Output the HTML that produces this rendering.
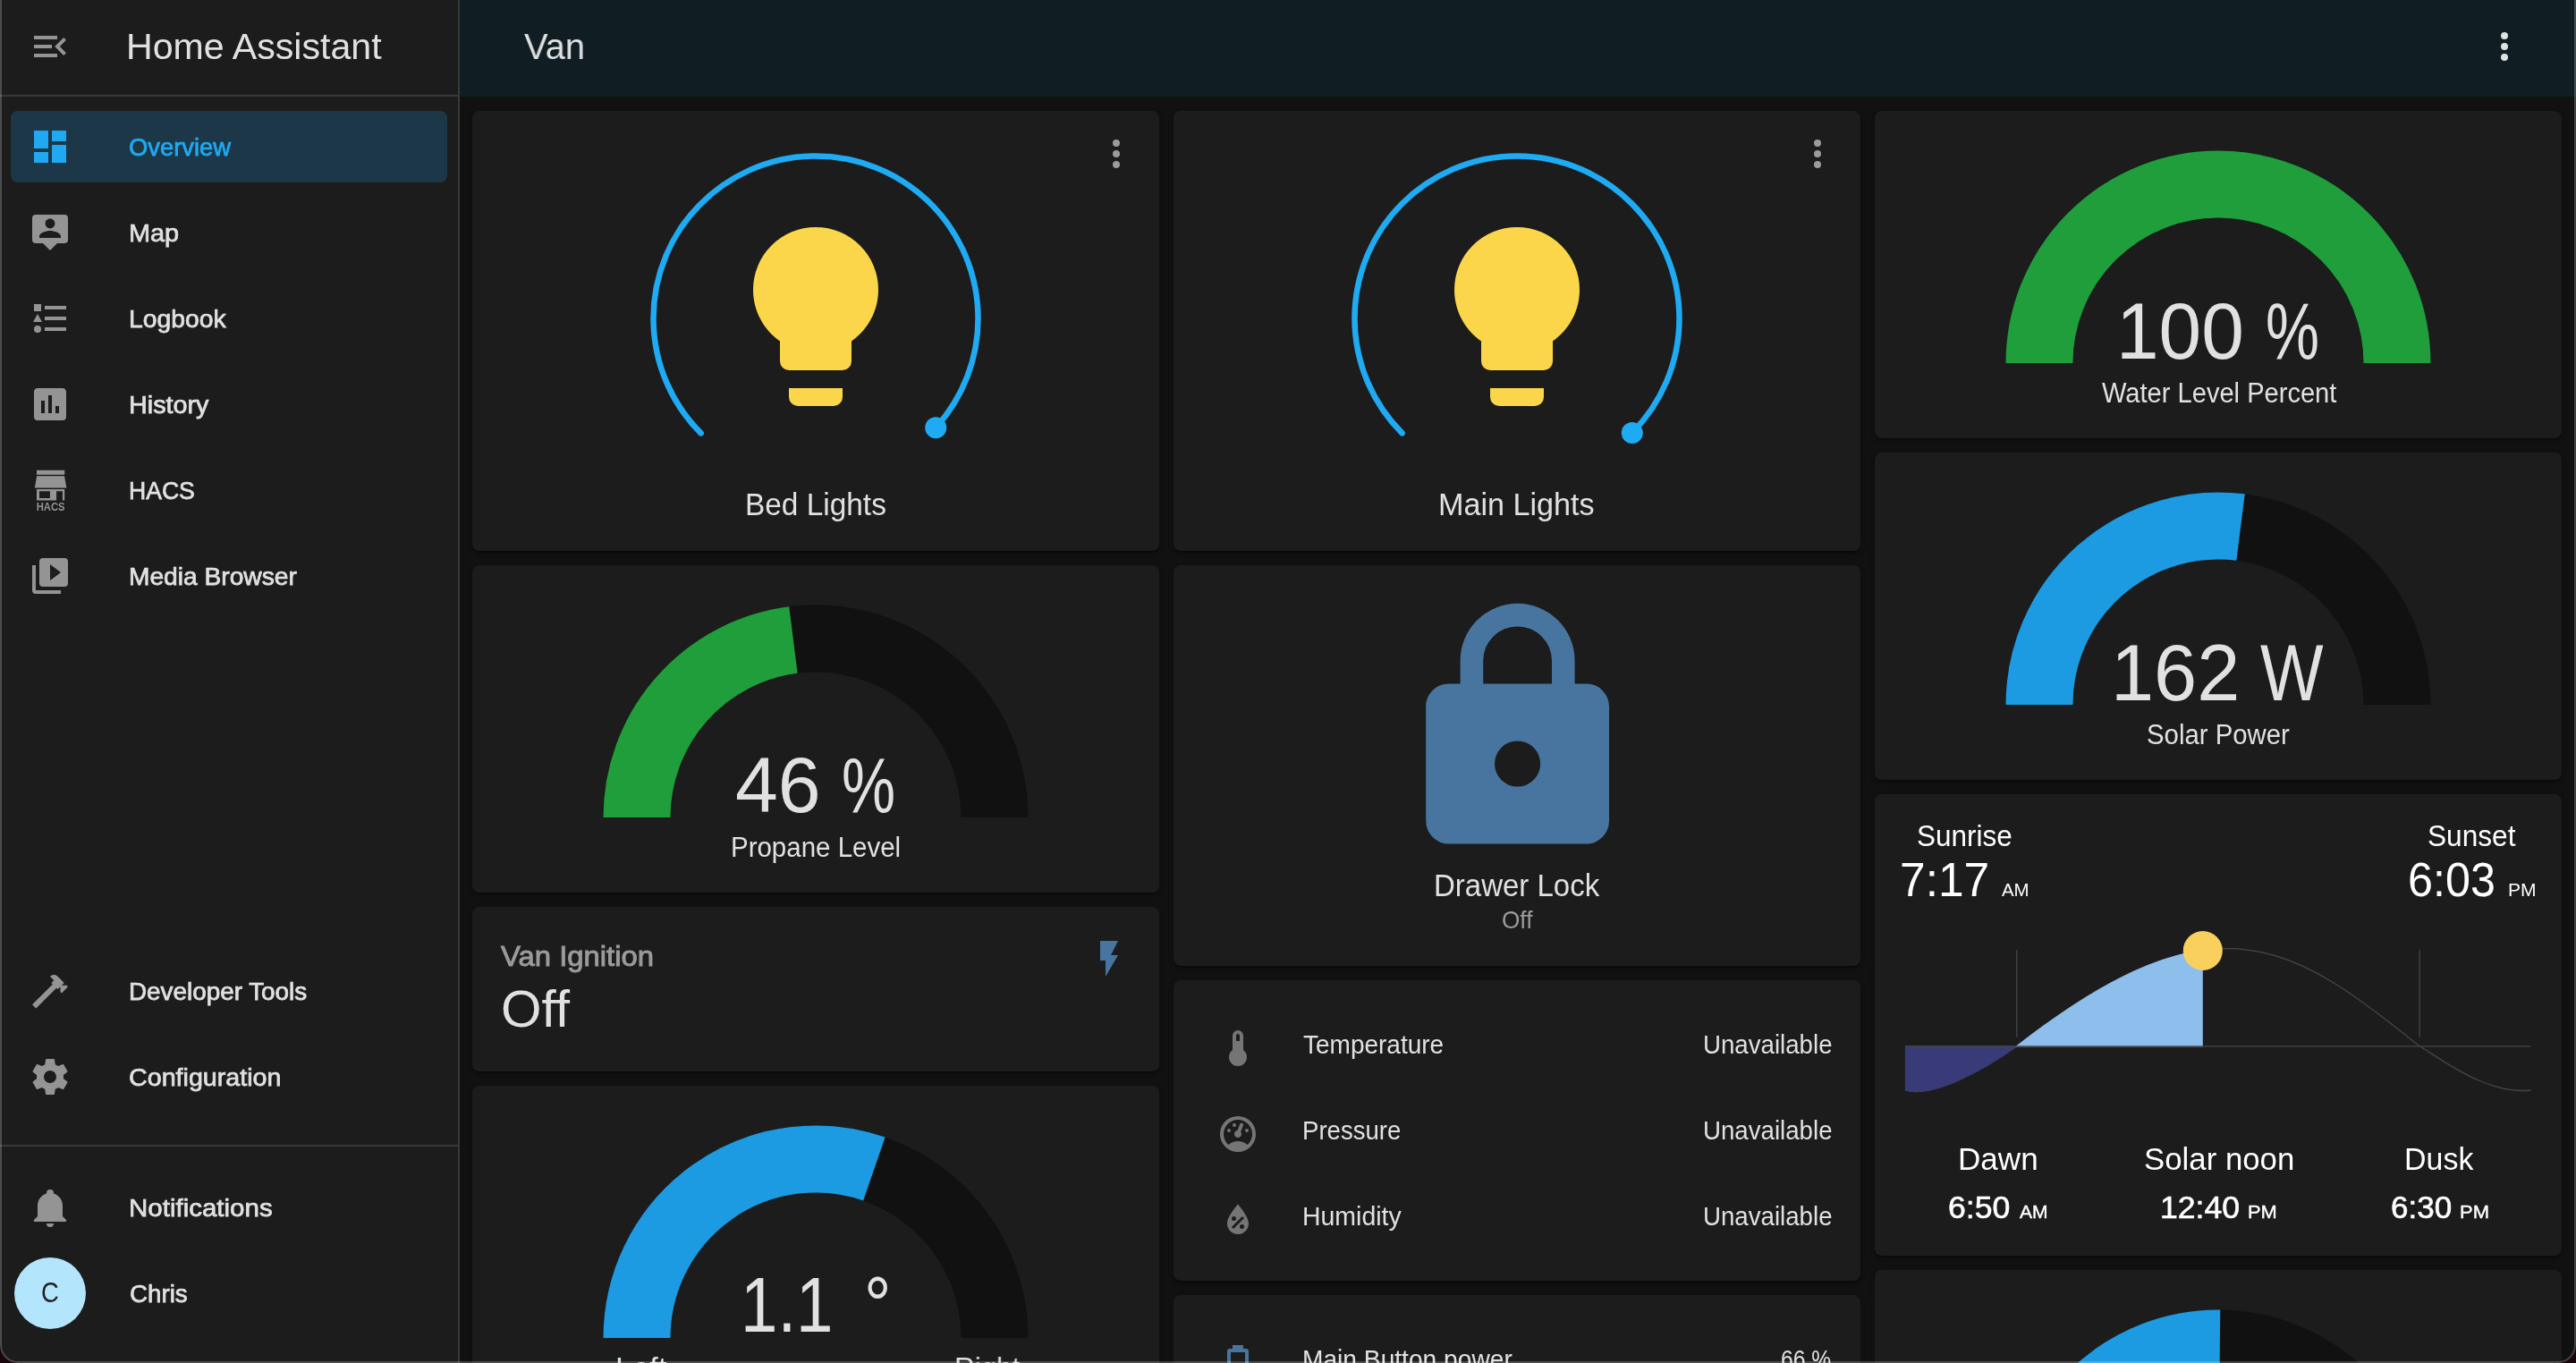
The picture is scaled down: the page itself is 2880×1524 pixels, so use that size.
<!DOCTYPE html>
<html lang="en"><head><meta charset="utf-8"><title>Van – Home Assistant</title>
<style>
html,body{margin:0;padding:0}
body{width:2880px;height:1524px;overflow:hidden;background:#1a0410;font-family:"Liberation Sans",sans-serif;position:relative}
#win{position:absolute;left:0;top:0;width:2880px;height:1524px;border-radius:0 0 20px 20px;overflow:hidden;background:#111111}
#frame{position:absolute;left:0;top:-2px;width:2880px;height:1526px;box-sizing:border-box;border:2px solid rgba(255,255,255,.21);border-radius:0 0 20px 20px;z-index:50}
#page{position:absolute;left:0;top:0;width:2880px;height:1524px;will-change:transform}
#page *{box-sizing:border-box}
.abs,.t,.ic,.card,aside,header,main,nav,a.item,section,.row{position:absolute}
nav{left:0;top:0;width:512px;height:0}
.row{left:0;width:768px;height:80px}
.t{white-space:nowrap;transform-origin:0 50%;display:block;margin:0;padding:0}
.ic{display:block;overflow:visible}
aside{left:0;top:0;width:514px;height:1524px;background:#1c1c1c;border-right:2px solid #383838}
aside .hd{position:absolute;left:0;top:0;width:512px;height:108px;border-bottom:2px solid #383838}
aside .sep{position:absolute;left:0;top:1280px;width:512px;height:2px;background:#383838}
a.item{left:12px;width:488px;height:80px;border-radius:8px;text-decoration:none;display:block}
a.item.sel{background:#1c3848}
header{left:514px;top:0;width:2366px;height:108px;background:#101e24;z-index:2}
main{left:514px;top:108px;width:2366px;height:1416px;background:#111111}
.card{background:#1c1c1c;border-radius:8px;box-shadow:0 4px 2px -2px rgba(0,0,0,.2),0 2px 2px 0 rgba(0,0,0,.14),0 2px 6px 0 rgba(0,0,0,.12)}
.avatar{position:absolute;left:16px;top:1406px;width:80px;height:80px;border-radius:50%;background:#b3e5fc}
</style></head><body>
<div id="win"><div id="page">

<aside>
<div class="hd">
<svg class="ic" style="left:32px;top:28px;width:48px;height:48px" viewBox="0 0 24 24"><path fill="#949494" d="M21,15.61L19.59,17L14.58,12L19.59,7L21,8.39L17.44,12L21,15.61M3,6H16V8H3V6M3,13V11H13V13H3M3,18V16H16V18H3Z"/></svg>
<span class="t" style="left:141.21px;top:23px;font-size:41.34px;line-height:58px;height:58px;color:#e1e1e1;transform:scaleX(0.9947);">Home Assistant</span>
</div>
<nav>
<a class="item sel" style="left:12px;top:124px;width:488px;height:80px;">
<svg class="ic" style="left:20px;top:16px;width:48px;height:48px" viewBox="0 0 24 24"><path fill="#20a9f2" d="M13,3V9H21V3M13,21H21V11H13M3,21H11V15H3M3,13H11V3H3V13Z"/></svg>
<span class="t" style="left:132.47px;top:21px;font-size:28.11px;line-height:39px;height:39px;color:#20a9f2;transform:scaleX(0.9728);-webkit-text-stroke:0.75px #20a9f2;">Overview</span>
</a>
<a class="item" style="left:12px;top:220px;width:488px;height:80px;">
<svg class="ic" style="left:20px;top:16px;width:48px;height:48px" viewBox="0 0 24 24"><path fill="#949494" d="M20,2H4A2,2 0 0,0 2,4V16A2,2 0 0,0 4,18H8L12,22L16,18H20A2,2 0 0,0 22,16V4A2,2 0 0,0 20,2M12,4.3C13.5,4.3 14.7,5.5 14.7,7C14.7,8.5 13.5,9.7 12,9.7C10.5,9.7 9.3,8.5 9.3,7C9.3,5.5 10.5,4.3 12,4.3M18,15H6V14.1C6,12.1 10,11 12,11C14,11 18,12.1 18,14.1V15Z"/></svg>
<span class="t" style="left:131.99px;top:21px;font-size:28.11px;line-height:39px;height:39px;color:#e1e1e1;transform:scaleX(1.0272);-webkit-text-stroke:0.75px #e1e1e1;">Map</span>
</a>
<a class="item" style="left:12px;top:316px;width:488px;height:80px;">
<svg class="ic" style="left:20px;top:16px;width:48px;height:48px" viewBox="0 0 24 24"><path fill="#949494" d="M5,9.5L7.5,14H2.5L5,9.5M3,4H7V8H3V4M5,20A2,2 0 0,0 7,18A2,2 0 0,0 5,16A2,2 0 0,0 3,18A2,2 0 0,0 5,20M9,5V7H21V5H9M9,19H21V17H9V19M9,13H21V11H9V13Z"/></svg>
<span class="t" style="left:132.24px;top:21px;font-size:28.11px;line-height:39px;height:39px;color:#e1e1e1;transform:scaleX(1.0071);-webkit-text-stroke:0.75px #e1e1e1;">Logbook</span>
</a>
<a class="item" style="left:12px;top:412px;width:488px;height:80px;">
<svg class="ic" style="left:20px;top:16px;width:48px;height:48px" viewBox="0 0 24 24"><path fill="#949494" d="M19,3H5C3.89,3 3,3.89 3,5V19A2,2 0 0,0 5,21H19A2,2 0 0,0 21,19V5C21,3.89 20.1,3 19,3M9,17H7V10H9V17M13,17H11V7H13V17M17,17H15V13H17V17Z"/></svg>
<span class="t" style="left:132.20px;top:21px;font-size:28.11px;line-height:39px;height:39px;color:#e1e1e1;transform:scaleX(1.0225);-webkit-text-stroke:0.75px #e1e1e1;">History</span>
</a>
<a class="item" style="left:12px;top:508px;width:488px;height:80px;">
<svg class="ic" style="left:20px;top:16px;width:48px;height:48px" viewBox="0 0 24 24"><path fill="#949494" fill-rule="evenodd" d="M4.5,0.9H20.1V3.4H4.5Z M4.6,4.1H20L21.2,10.75H3.4Z M4.5,11.45H20.1V17.8H18.95V12.6H15.55V17.8H4.5Z M6,12.6H11.95V16.45H6Z"/><text x="4.35" y="23.5" font-family="Liberation Sans,sans-serif" font-weight="bold" font-size="6.1" textLength="15.9" lengthAdjust="spacingAndGlyphs" fill="#949494">HACS</text></svg>
<span class="t" style="left:132.37px;top:21px;font-size:28.11px;line-height:39px;height:39px;color:#e1e1e1;transform:scaleX(0.9450);-webkit-text-stroke:0.75px #e1e1e1;">HACS</span>
</a>
<a class="item" style="left:12px;top:604px;width:488px;height:80px;">
<svg class="ic" style="left:20px;top:16px;width:48px;height:48px" viewBox="0 0 24 24"><path fill="#949494" d="M4,6H2V20A2,2 0 0,0 4,22H18V20H4V6M20,2H8A2,2 0 0,0 6,4V16A2,2 0 0,0 8,18H20A2,2 0 0,0 22,16V4A2,2 0 0,0 20,2M12,14.5V5.5L18,10L12,14.5Z"/></svg>
<span class="t" style="left:132.25px;top:21px;font-size:28.11px;line-height:39px;height:39px;color:#e1e1e1;transform:scaleX(1.0017);-webkit-text-stroke:0.75px #e1e1e1;">Media Browser</span>
</a>
<a class="item" style="left:12px;top:1068px;width:488px;height:80px;">
<svg class="ic" style="left:20px;top:16px;width:48px;height:48px" viewBox="0 0 24 24"><path fill="#949494" d="M2,19.63L13.43,8.2L12.72,7.5L14.14,6.07L12,3.89C13.2,2.7 15.09,2.7 16.27,3.89L19.87,7.5L18.45,8.91H21.29L22,9.62L18.45,13.21L17.74,12.5V9.62L16.27,11.04L15.56,10.33L4.13,21.76L2,19.63Z"/></svg>
<span class="t" style="left:132.27px;top:21px;font-size:28.11px;line-height:39px;height:39px;color:#e1e1e1;transform:scaleX(0.9909);-webkit-text-stroke:0.75px #e1e1e1;">Developer Tools</span>
</a>
<a class="item" style="left:12px;top:1164px;width:488px;height:80px;">
<svg class="ic" style="left:20px;top:16px;width:48px;height:48px" viewBox="0 0 24 24"><path fill="#949494" d="M12,15.5A3.5,3.5 0 0,1 8.5,12A3.5,3.5 0 0,1 12,8.5A3.5,3.5 0 0,1 15.5,12A3.5,3.5 0 0,1 12,15.5M19.43,12.97C19.47,12.65 19.5,12.33 19.5,12C19.5,11.67 19.47,11.34 19.43,11L21.54,9.37C21.73,9.22 21.78,8.95 21.66,8.73L19.66,5.27C19.54,5.05 19.27,4.96 19.05,5.05L16.56,6.05C16.04,5.66 15.5,5.32 14.87,5.07L14.5,2.42C14.46,2.18 14.25,2 14,2H10C9.75,2 9.54,2.18 9.5,2.42L9.13,5.07C8.5,5.32 7.96,5.66 7.44,6.05L4.95,5.05C4.73,4.96 4.46,5.05 4.34,5.27L2.34,8.73C2.21,8.95 2.27,9.22 2.46,9.37L4.57,11C4.53,11.34 4.5,11.67 4.5,12C4.5,12.33 4.53,12.65 4.57,12.97L2.46,14.63C2.27,14.78 2.21,15.05 2.34,15.27L4.34,18.73C4.46,18.95 4.73,19.03 4.95,18.95L7.44,17.94C7.96,18.34 8.5,18.68 9.13,18.93L9.5,21.58C9.54,21.82 9.75,22 10,22H14C14.25,22 14.46,21.82 14.5,21.58L14.87,18.93C15.5,18.67 16.04,18.34 16.56,17.94L19.05,18.95C19.27,19.03 19.54,18.95 19.66,18.73L21.66,15.27C21.78,15.05 21.73,14.78 21.54,14.63L19.43,12.97Z"/></svg>
<span class="t" style="left:132.47px;top:21px;font-size:28.11px;line-height:39px;height:39px;color:#e1e1e1;transform:scaleX(1.0197);-webkit-text-stroke:0.75px #e1e1e1;">Configuration</span>
</a>
</nav>
<div class="sep"></div>
<a class="item" style="left:12px;top:1310px;width:488px;height:80px;">
<svg class="ic" style="left:20px;top:16px;width:48px;height:48px" viewBox="0 0 24 24"><path fill="#949494" d="M21,19V20H3V19L5,17V11C5,7.9 7.03,5.17 10,4.29C10,4.19 10,4.1 10,4A2,2 0 0,1 12,2A2,2 0 0,1 14,4C14,4.1 14,4.19 14,4.29C16.97,5.17 19,7.9 19,11V17L21,19M14,21A2,2 0 0,1 12,23A2,2 0 0,1 10,21"/></svg>
<span class="t" style="left:132.14px;top:21px;font-size:28.11px;line-height:39px;height:39px;color:#e1e1e1;transform:scaleX(1.0492);-webkit-text-stroke:0.75px #e1e1e1;">Notifications</span>
</a>
<a class="item" style="left:12px;top:1406px;width:488px;height:80px;">
<div class="avatar" style="left:4px;top:0px;width:80px;height:80px;">
<span class="t" style="left:30.13px;top:16px;font-size:31.83px;line-height:46px;height:46px;color:#212121;transform:scaleX(0.8603);">C</span>
</div>
<span class="t" style="left:132.51px;top:21px;font-size:28.11px;line-height:39px;height:39px;color:#e1e1e1;transform:scaleX(0.9867);-webkit-text-stroke:0.75px #e1e1e1;">Chris</span>
</a>
</aside>
<header style="left:514px;top:0px;width:2366px;height:108px;">
<span class="t" style="left:71.60px;top:23px;font-size:41.34px;line-height:58px;height:58px;color:#e1e1e1;transform:scaleX(0.9649);">Van</span>
<svg class="ic" style="left:2262px;top:28px;width:48px;height:48px" viewBox="0 0 24 24"><path fill="#e1e1e1" d="M12,16A2,2 0 0,1 14,18A2,2 0 0,1 12,20A2,2 0 0,1 10,18A2,2 0 0,1 12,16M12,10A2,2 0 0,1 14,12A2,2 0 0,1 12,14A2,2 0 0,1 10,12A2,2 0 0,1 12,10M12,4A2,2 0 0,1 14,6A2,2 0 0,1 12,8A2,2 0 0,1 10,6A2,2 0 0,1 12,4Z"/></svg>
</header>
<main style="left:514px;top:108px;width:2366px;height:1416px;">
<section class="card" style="left:14px;top:16px;width:768px;height:492px;">
<svg class="ic" style="left:0;top:0;width:768px;height:492px" viewBox="528 124 768 492"><path d="M 783.66 484.34 A 181.5 181.5 0 1 1 1046.24 478.15" fill="none" stroke="#1eabf3" stroke-width="6.5" stroke-linecap="round"/><circle cx="1046.24" cy="478.15" r="12" fill="#1eabf3"/></svg>
<svg class="ic" style="left:264px;top:110px;width:240px;height:240px" viewBox="0 0 24 24"><path fill="#fbd64a" d="M12,2A7,7 0 0,0 5,9C5,11.38 6.19,13.47 8,14.74V17A1,1 0 0,0 9,18H15A1,1 0 0,0 16,17V14.74C17.81,13.47 19,11.38 19,9A7,7 0 0,0 12,2M9,21A1,1 0 0,0 10,22H14A1,1 0 0,0 15,21V20H9V21Z"/></svg>
<svg class="ic" style="left:696px;top:24px;width:48px;height:48px" viewBox="0 0 24 24"><path fill="#9b9b9b" d="M12,16A2,2 0 0,1 14,18A2,2 0 0,1 12,20A2,2 0 0,1 10,18A2,2 0 0,1 12,16M12,10A2,2 0 0,1 14,12A2,2 0 0,1 12,14A2,2 0 0,1 10,12A2,2 0 0,1 12,10M12,4A2,2 0 0,1 14,6A2,2 0 0,1 12,8A2,2 0 0,1 10,6A2,2 0 0,1 12,4Z"/></svg>
<span class="t" style="left:304.53px;top:415px;font-size:34.72px;line-height:50px;height:50px;color:#e1e1e1;transform:scaleX(0.9621);">Bed Lights</span>
</section>
<section class="card" style="left:14px;top:524px;width:768px;height:366px;">
<svg class="ic" style="left:134px;top:32px;width:500px;height:250px;overflow:hidden" viewBox="-50 -50 100 50"><path d="M -40 0 A 40 40 0 0 1 40 0" fill="none" stroke="#111111" stroke-width="15"/><path d="M -40 0 A 40 40 0 0 1 -5.013 -39.685" fill="none" stroke="#1f9e3b" stroke-width="15"/></svg>
<span class="t" style="left:294.28px;top:185px;font-size:86.67px;line-height:122px;height:122px;color:#e1e1e1;transform:scaleX(0.9913);">46</span>
<span class="t" style="left:413.24px;top:185px;font-size:86.67px;line-height:122px;height:122px;color:#e1e1e1;transform:scaleX(0.7795);">%</span>
<span class="t" style="left:289.44px;top:294px;font-size:31.00px;line-height:43px;height:43px;color:#e1e1e1;transform:scaleX(0.9508);">Propane Level</span>
</section>
<section class="card" style="left:14px;top:906px;width:768px;height:184px;">
<span class="t" style="left:32.44px;top:32px;font-size:32.02px;line-height:46px;height:46px;color:#9b9b9b;transform:scaleX(1.0261);-webkit-text-stroke:0.95px #9b9b9b;">Van Ignition</span>
<span class="t" style="left:32.47px;top:73px;font-size:57.87px;line-height:82px;height:82px;color:#e1e1e1;transform:scaleX(1.0110);">Off</span>
<svg class="ic" style="left:688px;top:34px;width:48px;height:48px" viewBox="0 0 24 24"><path fill="#4775a0" d="M7,2V13H10V22L17,10H13L17,2H7Z"/></svg>
</section>
<section class="card" style="left:14px;top:1106px;width:768px;height:366px;">
<svg class="ic" style="left:134px;top:32px;width:500px;height:250px;overflow:hidden" viewBox="-50 -50 100 50"><path d="M -40 0 A 40 40 0 0 1 40 0" fill="none" stroke="#111111" stroke-width="15"/><path d="M -40 0 A 40 40 0 0 1 13.076 -37.803" fill="none" stroke="#1c9be2" stroke-width="15"/></svg>
<span class="t" style="left:299.72px;top:183px;font-size:86.96px;line-height:123px;height:123px;color:#e1e1e1;transform:scaleX(0.8557);">1.1</span>
<span class="t" style="left:437.84px;top:183px;font-size:86.96px;line-height:123px;height:123px;color:#e1e1e1;transform:scaleX(0.8746);">°</span>
<span class="t" style="left:159.74px;top:292px;font-size:33.07px;line-height:47px;height:47px;color:#e1e1e1;transform:scaleX(1.0431);">Left</span>
<span class="t" style="left:538.99px;top:292px;font-size:33.07px;line-height:47px;height:47px;color:#e1e1e1;transform:scaleX(0.9498);">Right</span>
</section>
<section class="card" style="left:798px;top:16px;width:768px;height:492px;">
<svg class="ic" style="left:0;top:0;width:768px;height:492px" viewBox="1312 124 768 492"><path d="M 1567.66 484.34 A 181.5 181.5 0 1 1 1824.79 483.89" fill="none" stroke="#1eabf3" stroke-width="6.5" stroke-linecap="round"/><circle cx="1824.79" cy="483.89" r="12" fill="#1eabf3"/></svg>
<svg class="ic" style="left:264px;top:110px;width:240px;height:240px" viewBox="0 0 24 24"><path fill="#fbd64a" d="M12,2A7,7 0 0,0 5,9C5,11.38 6.19,13.47 8,14.74V17A1,1 0 0,0 9,18H15A1,1 0 0,0 16,17V14.74C17.81,13.47 19,11.38 19,9A7,7 0 0,0 12,2M9,21A1,1 0 0,0 10,22H14A1,1 0 0,0 15,21V20H9V21Z"/></svg>
<svg class="ic" style="left:696px;top:24px;width:48px;height:48px" viewBox="0 0 24 24"><path fill="#9b9b9b" d="M12,16A2,2 0 0,1 14,18A2,2 0 0,1 12,20A2,2 0 0,1 10,18A2,2 0 0,1 12,16M12,10A2,2 0 0,1 14,12A2,2 0 0,1 12,14A2,2 0 0,1 10,12A2,2 0 0,1 12,10M12,4A2,2 0 0,1 14,6A2,2 0 0,1 12,8A2,2 0 0,1 10,6A2,2 0 0,1 12,4Z"/></svg>
<span class="t" style="left:296.27px;top:415px;font-size:34.72px;line-height:50px;height:50px;color:#e1e1e1;transform:scaleX(0.9839);">Main Lights</span>
</section>
<section class="card" style="left:798px;top:524px;width:768px;height:448px;">
<svg class="ic" style="left:230.8px;top:30.4px;width:307.2px;height:307.2px" viewBox="0 0 24 24"><path fill="#4775a0" d="M12,17A2,2 0 0,0 14,15C14,13.89 13.1,13 12,13A2,2 0 0,0 10,15A2,2 0 0,0 12,17M18,8A2,2 0 0,1 20,10V20A2,2 0 0,1 18,22H6A2,2 0 0,1 4,20V10C4,8.89 4.9,8 6,8H7V6A5,5 0 0,1 12,1A5,5 0 0,1 17,6V8H18M12,3A3,3 0 0,0 9,6V8H15V6A3,3 0 0,0 12,3Z"/></svg>
<span class="t" style="left:291.06px;top:333px;font-size:34.72px;line-height:50px;height:50px;color:#e1e1e1;transform:scaleX(0.9502);">Drawer Lock</span>
<span class="t" style="left:366.62px;top:377px;font-size:27.49px;line-height:39px;height:39px;color:#9b9b9b;transform:scaleX(0.9530);">Off</span>
</section>
<section class="card" style="left:798px;top:988px;width:768px;height:336px;">
<div class="row" style="left:0px;top:32px;width:768px;height:80px;">
<svg class="ic" style="left:48px;top:20px;width:48px;height:48px" viewBox="0 0 24 24"><path fill="#757575" d="M15,13V5A3,3 0 0,0 9,5V13A5,5 0 1,0 15,13M12,4A1,1 0 0,1 13,5V8H11V5A1,1 0 0,1 12,4Z"/></svg>
<span class="t" style="left:145.44px;top:19px;font-size:28.94px;line-height:42px;height:42px;color:#e1e1e1;transform:scaleX(0.9676);">Temperature</span>
<span class="t" style="left:592.33px;top:19px;font-size:28.94px;line-height:42px;height:42px;color:#e1e1e1;transform:scaleX(0.9558);">Unavailable</span>
</div>
<div class="row" style="left:0px;top:128px;width:768px;height:80px;">
<svg class="ic" style="left:48px;top:20px;width:48px;height:48px" viewBox="0 0 24 24"><path fill="#757575" d="M12,2A10,10 0 0,0 2,12A10,10 0 0,0 12,22A10,10 0 0,0 22,12A10,10 0 0,0 12,2M12,4A8,8 0 0,1 20,12C20,14.4 19,16.5 17.3,18C15.9,16.7 14,16 12,16C10,16 8.2,16.7 6.7,18C5,16.5 4,14.4 4,12A8,8 0 0,1 12,4M14,5.89C13.62,5.9 13.26,6.15 13.1,6.54L11.81,9.77L11.71,10C11,10.13 10.41,10.6 10.14,11.26C9.73,12.29 10.23,13.45 11.26,13.86C12.29,14.27 13.45,13.77 13.86,12.74C14.12,12.08 14,11.32 13.57,10.76L13.67,10.5L14.96,7.29L14.97,7.26C15.17,6.75 14.92,6.17 14.41,5.96C14.28,5.91 14.15,5.89 14,5.89M10,6A1,1 0 0,0 9,7A1,1 0 0,0 10,8A1,1 0 0,0 11,7A1,1 0 0,0 10,6M7,9A1,1 0 0,0 6,10A1,1 0 0,0 7,11A1,1 0 0,0 8,10A1,1 0 0,0 7,9M17,9A1,1 0 0,0 16,10A1,1 0 0,0 17,11A1,1 0 0,0 18,10A1,1 0 0,0 17,9Z"/></svg>
<span class="t" style="left:144.39px;top:19px;font-size:28.94px;line-height:42px;height:42px;color:#e1e1e1;transform:scaleX(0.9533);">Pressure</span>
<span class="t" style="left:592.33px;top:19px;font-size:28.94px;line-height:42px;height:42px;color:#e1e1e1;transform:scaleX(0.9558);">Unavailable</span>
</div>
<div class="row" style="left:0px;top:224px;width:768px;height:80px;">
<svg class="ic" style="left:48px;top:20px;width:48px;height:48px" viewBox="0 0 24 24"><path fill="#757575" d="M12,3.25C12,3.25 6,10 6,14C6,17.32 8.69,20 12,20A6,6 0 0,0 18,14C18,10 12,3.25 12,3.25M14.47,9.97L15.53,11.03L9.53,17.03L8.47,15.97M9.75,10A1.25,1.25 0 0,1 11,11.25A1.25,1.25 0 0,1 9.75,12.5A1.25,1.25 0 0,1 8.5,11.25A1.25,1.25 0 0,1 9.75,10M14.25,14.5A1.25,1.25 0 0,1 15.5,15.75A1.25,1.25 0 0,1 14.25,17A1.25,1.25 0 0,1 13,15.75A1.25,1.25 0 0,1 14.25,14.5Z"/></svg>
<span class="t" style="left:144.32px;top:19px;font-size:28.94px;line-height:42px;height:42px;color:#e1e1e1;transform:scaleX(0.9832);">Humidity</span>
<span class="t" style="left:592.33px;top:19px;font-size:28.94px;line-height:42px;height:42px;color:#e1e1e1;transform:scaleX(0.9558);">Unavailable</span>
</div>
</section>
<section class="card" style="left:798px;top:1340px;width:768px;height:200px;">
<div class="row" style="left:0px;top:32px;width:768px;height:80px;">
<svg class="ic" style="left:48px;top:20px;width:48px;height:48px" viewBox="0 0 24 24"><path fill="#4775a0" d="M16,14H8V6H16M16.67,4H15V2H9V4H7.33A1.33,1.33 0 0,0 6,5.33V20.67C6,21.4 6.6,22 7.33,22H16.67A1.33,1.33 0 0,0 18,20.67V5.33C18,4.6 17.4,4 16.67,4Z"/></svg>
<span class="t" style="left:143.95px;top:19px;font-size:28.94px;line-height:42px;height:42px;color:#e1e1e1;transform:scaleX(0.9730);">Main Button power</span>
<span class="t" style="left:678.67px;top:19px;font-size:28.94px;line-height:42px;height:42px;color:#e1e1e1;transform:scaleX(0.8516);">66 %</span>
</div>
</section>
<section class="card" style="left:1582px;top:16px;width:768px;height:366px;">
<svg class="ic" style="left:134px;top:32px;width:500px;height:250px;overflow:hidden" viewBox="-50 -50 100 50"><path d="M -40 0 A 40 40 0 0 1 40 0" fill="none" stroke="#111111" stroke-width="15"/><path d="M -40 0 A 40 40 0 0 1 40 0" fill="none" stroke="#1f9e3b" stroke-width="15"/></svg>
<span class="t" style="left:269.68px;top:183px;font-size:88.99px;line-height:126px;height:126px;color:#e1e1e1;transform:scaleX(0.9619);">100</span>
<span class="t" style="left:437.34px;top:183px;font-size:88.99px;line-height:126px;height:126px;color:#e1e1e1;transform:scaleX(0.7592);">%</span>
<span class="t" style="left:253.55px;top:294px;font-size:31.00px;line-height:43px;height:43px;color:#e1e1e1;transform:scaleX(0.9380);">Water Level Percent</span>
</section>
<section class="card" style="left:1582px;top:398px;width:768px;height:366px;">
<svg class="ic" style="left:134px;top:32px;width:500px;height:250px;overflow:hidden" viewBox="-50 -50 100 50"><path d="M -40 0 A 40 40 0 0 1 40 0" fill="none" stroke="#111111" stroke-width="15"/><path d="M -40 0 A 40 40 0 0 1 5.013 -39.685" fill="none" stroke="#1c9be2" stroke-width="15"/></svg>
<span class="t" style="left:264.21px;top:184px;font-size:88.84px;line-height:125px;height:125px;color:#e1e1e1;transform:scaleX(0.9737);">162</span>
<span class="t" style="left:430.53px;top:184px;font-size:88.84px;line-height:125px;height:125px;color:#e1e1e1;transform:scaleX(0.8416);">W</span>
<span class="t" style="left:304.18px;top:294px;font-size:31.00px;line-height:43px;height:43px;color:#e1e1e1;transform:scaleX(0.9465);">Solar Power</span>
</section>
<section class="card" style="left:1582px;top:780px;width:768px;height:516px;">
<span class="t" style="left:47.38px;top:23px;font-size:33.07px;line-height:47px;height:47px;color:#ffffff;transform:scaleX(0.9523);">Sunrise</span>
<span class="t" style="left:28.23px;top:57px;font-size:53.74px;line-height:76px;height:76px;color:#ffffff;transform:scaleX(0.9582);">7:17</span>
<span class="t" style="left:142.00px;top:91px;font-size:21.08px;line-height:31px;height:31px;color:#ffffff;transform:scaleX(0.9688);">AM</span>
<span class="t" style="left:618.28px;top:23px;font-size:33.07px;line-height:47px;height:47px;color:#ffffff;transform:scaleX(0.9568);">Sunset</span>
<span class="t" style="left:596.39px;top:57px;font-size:53.74px;line-height:76px;height:76px;color:#ffffff;transform:scaleX(0.9359);">6:03</span>
<span class="t" style="left:708.22px;top:91px;font-size:21.08px;line-height:31px;height:31px;color:#ffffff;transform:scaleX(0.9984);">PM</span>
<svg class="ic" style="left:28px;top:142.2px;width:712px;height:194.18px" viewBox="0 0 550 150"><defs><clipPath id="dayclip"><rect x="0" y="-20" width="261.7" height="200"/></clipPath></defs><path d="M5,146 C29,153 73,128 101,108 C276,-29 342,23 449,108 C473,123 509,150 545,146" fill="none" stroke="#464646" stroke-width="1"/><path d="M5,146 C29,153 73,128 101,108 L 5 108 Z" fill="#393b78" stroke="#393b78" stroke-width="1"/><path clip-path="url(#dayclip)" d="M101,108 C276,-29 342,23 449,108 L 104,108 Z" fill="#8ebeeb" stroke="#8ebeeb" stroke-width="1"/><line x1="5" y1="108" x2="545" y2="108" stroke="#464646" stroke-width="1"/><line x1="101" y1="25" x2="101" y2="100" stroke="#464646" stroke-width="1"/><line x1="449" y1="25" x2="449" y2="100" stroke="#464646" stroke-width="1"/><circle cx="261.7" cy="25.5" r="17" fill="#f9d05e"/></svg>
<span class="t" style="left:92.79px;top:383px;font-size:34.72px;line-height:50px;height:50px;color:#ffffff;transform:scaleX(1.0099);">Dawn</span>
<span class="t" style="left:82.42px;top:437px;font-size:35.51px;line-height:50px;height:50px;color:#ffffff;transform:scaleX(1.0026);-webkit-text-stroke:0.6px #ffffff;">6:50</span>
<span class="t" style="left:161.70px;top:452px;font-size:20.64px;line-height:29px;height:29px;color:#ffffff;transform:scaleX(1.0212);-webkit-text-stroke:0.4px #ffffff;">AM</span>
<span class="t" style="left:301.03px;top:383px;font-size:34.72px;line-height:50px;height:50px;color:#ffffff;transform:scaleX(1.0022);">Solar noon</span>
<span class="t" style="left:319.33px;top:437px;font-size:35.51px;line-height:50px;height:50px;color:#ffffff;transform:scaleX(1.0018);-webkit-text-stroke:0.6px #ffffff;">12:40</span>
<span class="t" style="left:417.05px;top:452px;font-size:20.64px;line-height:29px;height:29px;color:#ffffff;transform:scaleX(1.0607);-webkit-text-stroke:0.4px #ffffff;">PM</span>
<span class="t" style="left:591.88px;top:383px;font-size:34.72px;line-height:50px;height:50px;color:#ffffff;transform:scaleX(0.9779);">Dusk</span>
<span class="t" style="left:577.25px;top:437px;font-size:35.51px;line-height:50px;height:50px;color:#ffffff;transform:scaleX(0.9875);-webkit-text-stroke:0.6px #ffffff;">6:30</span>
<span class="t" style="left:654.24px;top:452px;font-size:20.64px;line-height:29px;height:29px;color:#ffffff;transform:scaleX(1.0643);-webkit-text-stroke:0.4px #ffffff;">PM</span>
</section>
<section class="card" style="left:1582px;top:1312px;width:768px;height:366px;">
<svg class="ic" style="left:134px;top:32px;width:500px;height:250px;overflow:hidden" viewBox="-50 -50 100 50"><path d="M -40 0 A 40 40 0 0 1 40 0" fill="none" stroke="#111111" stroke-width="15"/><path d="M -40 0 A 40 40 0 0 1 0.377 -39.998" fill="none" stroke="#1c9be2" stroke-width="15"/></svg>
</section>
</main>
</div><div id="frame"></div></div></body></html>
